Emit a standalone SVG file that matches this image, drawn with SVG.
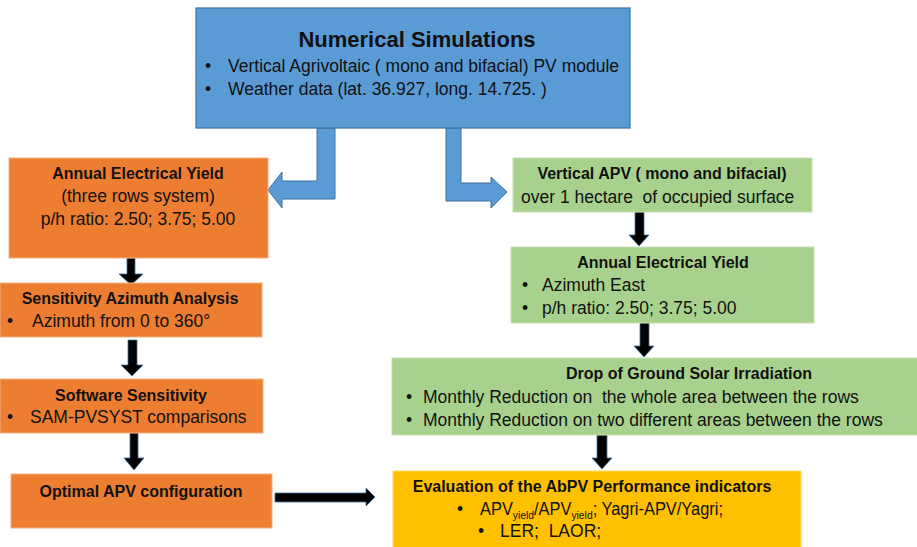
<svg xmlns="http://www.w3.org/2000/svg" width="917" height="547" viewBox="0 0 917 547">
<style>
text{font-family:"Liberation Sans",Arial,sans-serif;fill:#111;white-space:pre;}
.t{font-weight:bold;font-size:16px;}
.b{font-size:17.5px;}
.m{text-anchor:middle;}
.blue{fill:#5B9BD5;stroke:#41719C;stroke-width:1.2;}
.orange{fill:#ED7D31;stroke:#F4B183;stroke-width:1;}
.green{fill:#A9D18E;stroke:#C5E0B4;stroke-width:1;}
.yellow{fill:#FFC000;stroke:#FFD966;stroke-width:1;}
.barrow{fill:#5B9BD5;stroke:#41719C;stroke-width:1;}
.karrow{fill:#000;stroke:#41719C;stroke-width:0.8;}
</style>
<rect width="917" height="547" fill="#fff"/>
<g id="connectors">
<polygon class="barrow" points="317,128 335,128 335,199 282,199 282,208 268,190 282,172 282,181 317,181"/>
<polygon class="barrow" points="446,128 461,128 461,183 491,183 491,177 507,192 491,208 491,201 446,201"/>
<polygon class="karrow" points="127,258 135,258 135,274 143,274 131,285 119,274 127,274"/>
<polygon class="karrow" points="128,340 137,340 137,365 143,365 132,376 121,365 128,365"/>
<polygon class="karrow" points="130,433 138,433 138,458 144,458 134,470 124,458 130,458"/>
<polygon class="karrow" points="635,212 644,212 644,235 649,235 639,246 629,235 635,235"/>
<polygon class="karrow" points="640,323 649,323 649,346 654,346 644,357 634,346 640,346"/>
<polygon class="karrow" points="597,435 607,435 607,458 612,458 602,469 592,458 597,458"/>
<polygon class="karrow" points="275,493 366,493 366,488 375,497 366,506 366,502 275,502"/>
</g>
<g id="numerical-simulations">
<rect class="blue" x="196" y="8" width="434" height="120"/>
<text class="m" x="417" y="47" style="font-weight:bold;font-size:22px">Numerical Simulations</text>
<text class="b" x="205" y="72">•</text>
<text class="b" x="228" y="72">Vertical Agrivoltaic ( mono and bifacial) PV module</text>
<text class="b" x="205" y="95">•</text>
<text class="b" x="228" y="95">Weather data (lat. 36.927, long. 14.725. )</text>
</g>
<g id="annual-yield-left">
<rect class="orange" x="9" y="158" width="259" height="100"/>
<text class="t m" x="138" y="179">Annual Electrical Yield</text>
<text class="b m" x="138" y="202">(three rows system)</text>
<text class="b m" x="138" y="225">p/h ratio: 2.50; 3.75; 5.00</text>
</g>
<g id="sensitivity-azimuth">
<rect class="orange" x="0" y="283" width="262" height="54"/>
<text class="t m" x="130" y="304">Sensitivity Azimuth Analysis</text>
<text class="b" x="7" y="327">•</text>
<text class="b" x="32" y="327">Azimuth from 0 to 360°</text>
</g>
<g id="software-sensitivity">
<rect class="orange" x="0" y="379" width="263" height="54"/>
<text class="t m" x="131" y="401">Software Sensitivity</text>
<text class="b" x="7" y="423">•</text>
<text class="b" x="30" y="423">SAM-PVSYST comparisons</text>
</g>
<g id="optimal-apv">
<rect class="orange" x="11" y="474" width="261" height="54"/>
<text class="t m" x="141" y="497">Optimal APV configuration</text>
</g>
<g id="vertical-apv">
<rect class="green" x="513" y="158" width="299" height="54"/>
<text class="t m" x="662" y="179">Vertical APV ( mono and bifacial)</text>
<text class="b" x="521" y="203">over 1 hectare  of occupied surface</text>
</g>
<g id="annual-yield-right">
<rect class="green" x="511" y="247" width="303" height="76"/>
<text class="t m" x="663" y="268">Annual Electrical Yield</text>
<text class="b" x="522" y="291">•</text>
<text class="b" x="542" y="291">Azimuth East</text>
<text class="b" x="522" y="314">•</text>
<text class="b" x="542" y="314">p/h ratio: 2.50; 3.75; 5.00</text>
</g>
<g id="drop-irradiation">
<rect class="green" x="392" y="358" width="526" height="77"/>
<text class="t m" x="689" y="379">Drop of Ground Solar Irradiation</text>
<text class="b" x="406" y="403">•</text>
<text class="b" x="423" y="403">Monthly Reduction on  the whole area between the rows</text>
<text class="b" x="406" y="426">•</text>
<text class="b" x="423" y="426">Monthly Reduction on two different areas between the rows</text>
</g>
<g id="evaluation">
<rect class="yellow" x="393" y="471" width="408" height="80"/>
<text class="t m" x="592" y="492">Evaluation of the AbPV Performance indicators</text>
<text class="b" x="457" y="515">•</text>
<text class="b" x="480" y="515" textLength="243" lengthAdjust="spacingAndGlyphs">APV<tspan dy="4" font-size="11">yield</tspan><tspan dy="-4">/APV</tspan><tspan dy="4" font-size="11">yield</tspan><tspan dy="-4">; Yagri-APV/Yagri;</tspan></text>
<text class="b" x="478" y="537">•</text>
<text class="b" x="500" y="537">LER;  LAOR;</text>
</g>
</svg>
